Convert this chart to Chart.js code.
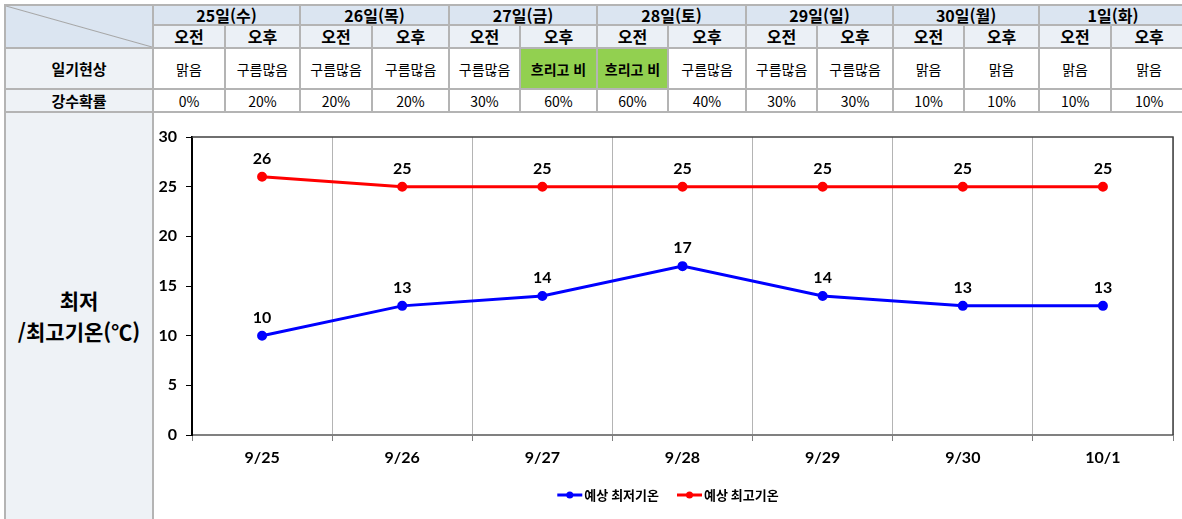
<!DOCTYPE html>
<html lang="ko">
<head>
    <meta charset="utf-8" />
    <title>최저/최고기온</title>
    <style>
        html,
        body {
            margin: 0;
            padding: 0;
            width: 1182px;
            height: 519px;
            overflow: hidden;
            background: #fff;
            font-family: "Noto Sans CJK KR", "Noto Sans", sans-serif;
            color: #000;
        }

        #forecast {
            position: absolute;
            left: 4px;
            top: 4px;
            border-collapse: collapse;
            table-layout: fixed;
        }

            #forecast td {
                border: 2px solid #b4b4b4;
                padding: 0;
                text-align: center;
                vertical-align: middle;
                font-size: 14px;
                white-space: nowrap;
                overflow: hidden;
            }

            #forecast .day {
                background: #dbe5f1;
                font-weight: bold;
                font-size: 16px;
                height: 18px;
                line-height: 18px;
            }

            #forecast .half {
                background: #ebf0f6;
                font-weight: bold;
                font-size: 16px;
                height: 21px;
                line-height: 21px;
            }

            #forecast .corner {
                background: #dbe5f1 linear-gradient(to top right, transparent calc(50% - 1px), #a6a6a6 50%, transparent calc(50% + 1px));
            }

            #forecast .label {
                background: #eef2f6;
                font-weight: bold;
                font-size: 15px;
            }

            #forecast .rain {
                background: #92d050;
                font-weight: bold;
            }

            #forecast tr.wx td {
                height: 39px;
            }

            #forecast tr.prob td {
                height: 21px;
            }

            #forecast tr.temp td {
                height: 406px;
            }

            #forecast .templabel {
                font-size: 21px;
                line-height: 31px;
            }

        #chart-wrap {
            position: absolute;
            left: 154px;
            top: 113px;
            width: 1028px;
            height: 406px;
        }
    </style>
</head>
<body>
    <table id="forecast"></table>
    <div id="chart-wrap"><canvas id="chart"></canvas></div>

    <script src="https://cdn.jsdelivr.net/npm/chart.js@4.4.3/dist/chart.umd.min.js"></script>
    <script>
        const dayHeaders = ['25일(수)', '26일(목)', '27일(금)', '28일(토)', '29일(일)', '30일(월)', '1일(화)'];
        const halfHeaders = ['오전', '오후'];
        const weather = ['맑음', '구름많음', '구름많음', '구름많음', '구름많음', '흐리고 비', '흐리고 비',
            '구름많음', '구름많음', '구름많음', '맑음', '맑음', '맑음', '맑음'];
        const rainChance = [0, 20, 20, 20, 30, 60, 60, 40, 30, 30, 10, 10, 10, 10];

        const dates = ['9/25', '9/26', '9/27', '9/28', '9/29', '9/30', '10/1'];
        const minTemps = [10, 13, 14, 17, 14, 13, 13];
        const maxTemps = [26, 25, 25, 25, 25, 25, 25];

        // table column widths (px), first one is the label column
        const colWidths = [148, 72, 75, 72, 77, 71, 77, 71, 78, 71, 76, 71, 75, 72, 76];

        const table = document.getElementById('forecast');

        const colgroup = document.createElement('colgroup');
        colWidths.forEach(w => {
            const col = document.createElement('col');
            col.style.width = w + 'px';
            colgroup.appendChild(col);
        });
        table.appendChild(colgroup);
        table.style.width = colWidths.reduce((a, b) => a + b, 0) + 'px';

        function addCell(row, text, cls, colspan, rowspan) {
            const td = document.createElement('td');
            if (text !== undefined) td.textContent = text;
            if (cls) td.className = cls;
            if (colspan) td.colSpan = colspan;
            if (rowspan) td.rowSpan = rowspan;
            row.appendChild(td);
            return td;
        }

        const row1 = table.insertRow();
        addCell(row1, '', 'corner', 1, 2);
        dayHeaders.forEach(d => addCell(row1, d, 'day', 2));

        const row2 = table.insertRow();
        dayHeaders.forEach(() => halfHeaders.forEach(h => addCell(row2, h, 'half')));

        const row3 = table.insertRow();
        row3.className = 'wx';
        addCell(row3, '일기현상', 'label');
        weather.forEach(w => addCell(row3, w, w.includes('비') ? 'rain' : ''));

        const row4 = table.insertRow();
        row4.className = 'prob';
        addCell(row4, '강수확률', 'label');
        rainChance.forEach(p => addCell(row4, p + '%'));

        const row5 = table.insertRow();
        row5.className = 'temp';
        const tl = addCell(row5, undefined, 'label templabel');
        tl.innerHTML = '최저<br>/최고기온(℃)';
        addCell(row5, '', '', 14);

        const numFont = { family: 'Lato, "Open Sans", sans-serif', size: 16, weight: 'bold' };

        // value labels above each point
        const valueLabels = {
            id: 'valueLabels',
            afterDatasetsDraw(chart) {
                const ctx = chart.ctx;
                ctx.save();
                ctx.font = 'bold 16px Lato, "Open Sans", sans-serif';
                ctx.fillStyle = '#000';
                ctx.textAlign = 'center';
                ctx.textBaseline = 'middle';
                chart.data.datasets.forEach((ds, i) => {
                    chart.getDatasetMeta(i).data.forEach((pt, j) => {
                        ctx.fillText(ds.data[j], pt.x, pt.y - 18);
                    });
                });
                ctx.restore();
            }
        };

        // frame on top/right and a line+dot legend at the bottom
        const frameAndLegend = {
            id: 'frameAndLegend',
            afterDraw(chart) {
                const ctx = chart.ctx;
                const a = chart.chartArea;
                ctx.save();
                ctx.strokeStyle = '#404040';
                ctx.lineWidth = 1.5;
                ctx.beginPath();
                ctx.moveTo(a.left, a.top);
                ctx.lineTo(a.right, a.top);
                ctx.lineTo(a.right, a.bottom);
                ctx.stroke();

                ctx.font = 'bold 13px "Noto Sans CJK KR", sans-serif';
                ctx.textBaseline = 'middle';
                const lineLen = 25;
                const gap = 2;
                const spacing = 18;
                const items = chart.data.datasets.map(ds => ({
                    label: ds.label,
                    color: ds.borderColor,
                    w: lineLen + gap + ctx.measureText(ds.label).width
                }));
                const total = items.reduce((s, it) => s + it.w, 0) + spacing * (items.length - 1);
                let x = chart.width / 2 - total / 2;
                const y = 382;
                items.forEach(it => {
                    ctx.strokeStyle = it.color;
                    ctx.fillStyle = it.color;
                    ctx.lineWidth = 3;
                    ctx.beginPath();
                    ctx.moveTo(x, y);
                    ctx.lineTo(x + lineLen, y);
                    ctx.stroke();
                    ctx.beginPath();
                    ctx.arc(x + lineLen / 2, y, 3.5, 0, Math.PI * 2);
                    ctx.fill();
                    ctx.fillStyle = '#000';
                    ctx.textAlign = 'left';
                    ctx.fillText(it.label, x + lineLen + gap, y);
                    x += it.w + spacing;
                });
                ctx.restore();
            }
        };

        const chart = new Chart(document.getElementById('chart'), {
            type: 'line',
            data: {
                labels: dates,
                datasets: [
                    {
                        label: '예상 최저기온',
                        data: minTemps,
                        borderColor: '#0000ff',
                        backgroundColor: '#0000ff',
                        borderWidth: 3,
                        pointRadius: 3.5,
                        pointHoverRadius: 3.5,
                        tension: 0
                    },
                    {
                        label: '예상 최고기온',
                        data: maxTemps,
                        borderColor: '#ff0000',
                        backgroundColor: '#ff0000',
                        borderWidth: 3,
                        pointRadius: 3.5,
                        pointHoverRadius: 3.5,
                        tension: 0
                    }
                ]
            },
            options: {
                responsive: true,
                maintainAspectRatio: false,
                animation: false,
                layout: {
                    padding: { left: 0, right: 9, top: 24, bottom: 0 }
                },
                plugins: {
                    legend: { display: false },
                    tooltip: { enabled: false }
                },
                scales: {
                    x: {
                        offset: true,
                        grid: {
                            offset: true,
                            color: '#b4b4b4',
                            lineWidth: 1,
                            tickLength: 6,
                            tickColor: '#808080'
                        },
                        border: { color: '#808080', width: 2 },
                        ticks: {
                            color: '#000',
                            font: numFont,
                            padding: 7
                        },
                        afterFit(scale) {
                            scale.height = 84;
                        }
                    },
                    y: {
                        min: 0,
                        max: 30,
                        ticks: {
                            stepSize: 5,
                            color: '#000',
                            font: numFont,
                            padding: 9
                        },
                        grid: {
                            drawOnChartArea: false,
                            tickLength: 6,
                            tickColor: '#000'
                        },
                        border: { color: '#000', width: 2 },
                        afterFit(scale) {
                            scale.width = 38;
                        }
                    }
                }
            },
            plugins: [valueLabels, frameAndLegend]
        });
    </script>
</body>
</html>
